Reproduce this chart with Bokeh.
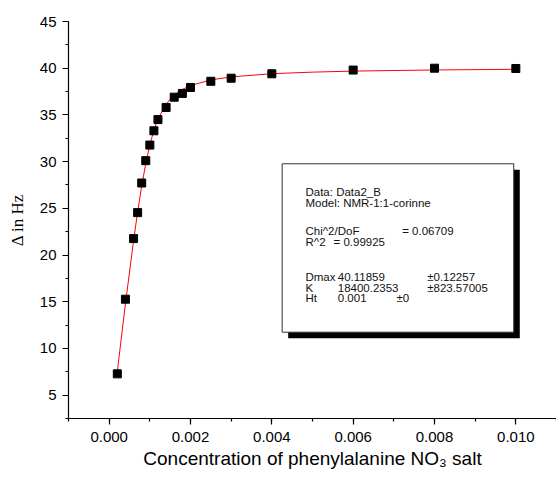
from bokeh.plotting import figure
from bokeh.models import (Range1d, SingleIntervalTicker, PrintfTickFormatter,
                          BoxAnnotation, Label)
from bokeh.embed import file_html
from bokeh.resources import INLINE

# Measured data (concentration, shift in Hz)
conc = [0.0002, 0.0004, 0.0006, 0.0007, 0.0008, 0.0009, 0.0010, 0.0011, 0.0012,
        0.0014, 0.0016, 0.0018, 0.0020, 0.0025, 0.0030, 0.0040, 0.0060, 0.0080, 0.0100]
delta = [7.28, 15.27, 21.76, 24.54, 27.71, 30.10, 31.77, 33.30, 34.50,
         35.80, 36.90, 37.30, 37.94, 38.60, 38.93, 39.40, 39.80, 40.00, 39.97]

# Fitted curve
fit_conc = [0.0002, 0.0004, 0.0006, 0.0007, 0.0008, 0.0009, 0.0010, 0.0011, 0.0012,
            0.0014, 0.0016, 0.0018, 0.0020, 0.0025, 0.0030, 0.0040, 0.0050, 0.0060,
            0.0080, 0.0100]
fit_delta = [7.52, 14.78, 21.54, 24.62, 27.40, 29.81, 31.79, 33.36, 34.57,
             36.17, 37.13, 37.73, 38.14, 38.75, 39.07, 39.41, 39.58, 39.69,
             39.81, 39.88]

box_lines = [
    ("Data: Data2_B", 26.73),
    ("Model: NMR-1:1-corinne", 25.59),
    ("Chi^2/DoF", 22.52),
    ("R^2", 21.37),
    ("Dmax", 17.63),
    ("K", 16.45),
    ("Ht", 15.38),
]
box_values = [
    ("= 0.06709", 0.007205, 22.52),
    ("=  0.99925", 0.005516, 21.37),
    ("40.11859", 0.005621, 17.63),
    ("\u00b10.12257", 0.00782, 17.63),
    ("18400.2353", 0.005621, 16.45),
    ("\u00b1823.57005", 0.00782, 16.45),
    ("0.001", 0.005621, 15.38),
    ("\u00b10", 0.007065, 15.38),
]

p = figure(width=556, height=480, output_backend="svg", toolbar_location=None,
           x_range=Range1d(-0.001, 0.011), y_range=Range1d(2.5, 45),
           min_border_left=68, min_border_right=0, min_border_top=21,
           min_border_bottom=62)
p.outline_line_color = None
p.grid.visible = False
p.background_fill_color = "white"
p.border_fill_color = "white"

p.line(fit_conc, fit_delta, line_color="red", line_width=1)
p.scatter(conc, delta, marker="square", size=8, fill_color="black", line_color="black")

for ax in (p.xaxis[0], p.yaxis[0]):
    ax.axis_line_color = "black"
    ax.axis_line_width = 1.2
    ax.major_tick_line_color = "black"
    ax.minor_tick_line_color = "black"
    ax.major_tick_line_width = 1.2
    ax.minor_tick_line_width = 1.2
    ax.major_tick_out = 6
    ax.major_tick_in = 0
    ax.minor_tick_out = 3
    ax.minor_tick_in = 0
    ax.major_label_text_font = "Liberation Sans"
    ax.major_label_text_font_size = "15px"
    ax.major_label_text_color = "black"
    ax.axis_label_text_font_style = "normal"
    ax.axis_label_text_color = "black"

p.xaxis.ticker = SingleIntervalTicker(interval=0.002, num_minor_ticks=2)
p.xaxis.formatter = PrintfTickFormatter(format="%.3f")
p.xaxis.major_label_standoff = 7
p.xaxis.axis_label = "Concentration of phenylalanine NO\u2083 salt"
p.xaxis.axis_label_text_font = "Liberation Sans"
p.xaxis.axis_label_text_font_size = "19px"
p.xaxis.axis_label_standoff = 3

p.yaxis.ticker = SingleIntervalTicker(interval=5, num_minor_ticks=2)
p.yaxis.major_label_standoff = 6
p.yaxis.axis_label = "\u0394 in Hz"
p.yaxis.axis_label_text_font = "Liberation Serif"
p.yaxis.axis_label_text_font_size = "17px"
p.yaxis.axis_label_standoff = 10

# Fit-result box with drop shadow
p.add_layout(BoxAnnotation(left=0.004402, right=0.010097, top=29.13, bottom=11.10,
                           fill_color="black", fill_alpha=1.0, line_color="black",
                           line_width=0))
p.add_layout(BoxAnnotation(left=0.004254, right=0.009949, top=29.77, bottom=11.74,
                           fill_color="white", fill_alpha=1.0, line_color="#333333",
                           line_width=1, line_alpha=1.0))

for txt, yy in box_lines:
    p.add_layout(Label(x=0.004827, y=yy, text=txt, text_font="Liberation Sans",
                       text_font_size="11.5px", text_baseline="middle",
                       text_color="#111111"))
for txt, xx, yy in box_values:
    p.add_layout(Label(x=xx, y=yy, text=txt, text_font="Liberation Sans",
                       text_font_size="11.5px", text_baseline="middle",
                       text_color="#111111"))

open("out.html", "w").write(file_html(p, INLINE))
